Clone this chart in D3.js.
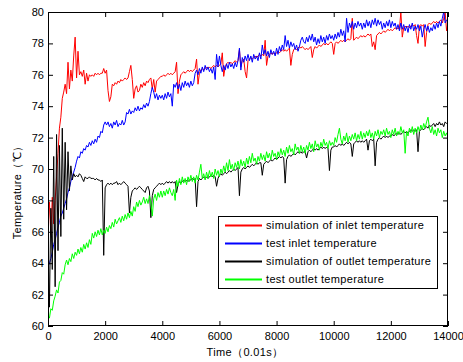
<!DOCTYPE html>
<html><head><meta charset="utf-8">
<script src="https://cdn.jsdelivr.net/npm/d3@7"></script>
<style>
body{margin:0;background:#fff}
text{font-family:"Liberation Sans",Arial,Helvetica,sans-serif;letter-spacing:0.35px}
.tick text{letter-spacing:0}
</style>
</head><body>
<svg id="c" width="463" height="362"></svg>
<script>
// sampling interval of the series, in units of 0.01 s
const sampleStep = 50;
const xTicks = [0,2000,4000,6000,8000,10000,12000,14000];
const yTicks = [60,62,64,66,68,70,72,74,76,78,80];
const seriesNames = ["simulation of inlet temperature","test inlet temperature","simulation of outlet temperature","test outlet temperature"];
const seriesColors = ["#ff0000","#0000ff","#000000","#00ff00"];

const simInlet = [
66.2,67.9,65.8,68.2,66.5,68.0,69.5,71.0,72.6,73.3,74.5,74.9,75.4,74.8,76.8,75.1,76.3,75.6,77.2,78.4,
75.8,77.5,76.0,76.2,75.9,76.3,75.4,76.1,75.6,76.0,75.9,76.0,75.9,76.1,76.0,76.1,76.0,76.1,76.1,76.4,
76.1,76.3,75.0,74.3,74.6,75.4,75.3,75.5,75.4,75.6,75.5,75.7,75.6,75.7,75.8,75.7,75.8,76.2,76.6,75.7,
74.5,75.1,75.3,74.9,75.0,75.4,75.2,75.5,75.3,75.6,75.5,75.7,75.8,75.1,75.7,74.9,75.6,75.7,75.8,75.9,
75.9,76.0,75.9,76.0,76.1,76.0,76.1,76.0,76.1,76.2,76.8,74.8,75.6,76.0,76.1,76.2,76.1,76.2,76.3,76.2,
76.3,76.2,76.3,76.4,77.0,75.4,76.1,76.3,76.4,76.3,76.4,76.5,76.4,76.5,76.4,76.5,76.6,76.5,76.6,76.5,
76.6,76.7,77.4,75.9,76.5,76.7,76.8,76.7,76.8,76.7,76.8,76.9,76.8,76.9,77.6,76.5,76.9,77.0,76.2,75.8,
76.9,77.0,77.1,77.0,77.1,77.2,77.1,77.2,77.3,77.2,77.3,77.2,78.2,76.6,77.2,77.3,77.4,77.3,77.4,77.3,
77.4,77.5,77.4,77.5,77.6,77.5,77.6,77.5,77.6,77.7,76.6,77.3,77.6,77.7,77.6,77.7,77.8,77.7,77.8,77.7,
77.6,77.7,77.6,77.7,77.8,77.1,77.6,77.8,77.7,77.8,77.9,77.8,77.9,78.0,77.9,78.0,77.9,78.0,78.1,78.0,
77.3,78.0,78.1,78.0,78.1,78.2,78.1,78.2,78.1,78.2,78.3,78.2,78.3,79.6,78.2,78.3,78.4,78.3,78.4,78.5,
78.4,78.5,78.4,78.5,78.6,78.5,78.6,77.8,78.1,77.6,78.5,78.6,78.7,78.6,78.7,78.8,78.7,78.8,78.9,78.8,
78.9,78.8,78.9,79.0,78.9,79.0,78.9,80.0,78.4,79.0,79.1,79.0,79.1,79.0,79.1,79.2,79.1,79.2,78.5,78.0,
79.1,79.2,79.1,79.2,77.8,78.7,79.2,79.3,79.2,79.3,79.4,79.3,79.4,79.3,79.4,79.5,79.3,79.6,80.0,78.8,
79.3];

const testInlet = [
63.8,64.0,64.3,64.7,65.2,65.5,65.9,66.3,66.6,67.0,67.2,67.5,67.8,68.1,68.5,68.8,69.2,69.5,69.8,70.1,
70.5,70.8,70.7,71.1,71.0,71.3,71.2,71.5,71.4,71.7,71.5,71.8,71.6,71.9,71.7,72.1,72.0,72.4,72.3,72.8,
73.0,72.8,73.0,72.7,72.9,72.6,73.0,72.8,73.1,72.7,72.9,72.8,73.1,72.8,73.0,73.6,73.5,73.8,73.5,73.7,
73.6,73.9,73.7,74.0,73.7,73.9,73.8,74.1,73.9,74.2,74.0,74.3,74.8,75.2,74.9,74.5,74.8,74.4,74.7,74.5,
74.7,74.4,74.8,74.5,74.9,74.6,74.8,74.0,75.4,75.2,75.5,75.1,75.4,75.0,75.5,75.2,75.6,75.3,75.5,75.2,
75.6,75.3,75.5,76.1,76.3,76.0,76.4,76.1,76.5,76.2,76.6,76.3,76.5,76.2,76.4,76.1,76.5,75.7,77.3,76.5,
77.2,76.6,76.2,76.6,76.3,76.7,76.4,76.8,76.5,76.7,76.4,76.8,76.5,76.9,77.7,76.3,77.1,76.8,77.2,76.9,
77.3,76.9,77.2,76.8,77.3,77.0,77.2,76.9,77.4,77.0,77.9,77.3,77.6,77.2,77.5,77.1,77.6,77.3,77.5,77.2,
77.7,77.3,77.8,77.5,77.9,77.6,78.5,77.8,78.2,77.7,78.1,77.8,78.0,77.6,77.9,77.5,77.8,78.2,78.4,78.1,
78.0,78.4,78.1,78.5,78.2,78.6,78.1,78.4,77.9,78.3,78.0,78.5,78.1,78.4,78.0,78.5,78.2,78.6,78.3,78.5,
78.2,78.6,78.3,78.7,78.4,78.9,78.5,78.8,78.1,79.6,78.7,79.3,79.0,79.4,78.9,79.3,79.0,79.4,79.1,79.3,
78.9,79.3,79.0,79.5,79.1,79.4,79.0,79.5,79.2,79.6,79.1,79.5,79.2,79.4,78.9,79.3,79.0,79.4,79.1,79.5,
79.0,79.4,79.1,79.3,78.9,79.2,78.8,79.3,78.9,79.2,78.8,79.1,78.7,79.2,78.9,79.3,78.8,79.1,78.9,79.2,
78.8,79.1,78.4,78.9,79.2,78.8,79.1,78.7,79.0,78.8,79.2,78.9,79.3,79.0,79.4,79.1,79.6,80.0,79.3,79.5,
79.4];

const simOutlet = [
66.0,61.2,67.5,63.6,70.8,62.5,72.2,64.8,71.5,65.7,72.6,66.8,71.7,67.4,71.1,68.6,70.2,69.3,69.7,69.5,
69.6,69.5,69.7,69.6,69.4,69.2,69.5,69.4,69.4,69.5,69.4,69.4,69.4,69.3,69.4,69.3,69.3,69.2,69.3,64.5,
68.8,69.0,69.1,69.0,69.1,69.0,69.1,69.1,69.2,69.0,69.1,69.0,69.1,69.2,69.1,69.0,68.9,67.2,68.2,68.6,
68.7,68.8,68.7,68.8,68.9,68.8,68.7,68.6,68.5,68.8,68.9,68.6,66.9,68.3,68.7,68.8,68.9,69.0,69.1,69.0,
69.1,69.0,69.1,69.2,69.1,69.2,69.1,69.2,69.1,69.2,68.5,69.0,69.2,69.1,69.2,69.3,69.2,69.3,69.2,69.3,
69.3,69.4,69.3,69.4,67.6,69.2,69.4,69.3,69.4,69.5,69.4,69.5,69.4,69.5,69.6,69.5,69.6,69.5,68.9,69.4,
69.6,69.7,69.6,69.7,69.8,69.7,69.8,69.9,69.8,69.9,70.0,69.9,70.0,70.1,68.3,69.8,70.0,70.1,70.0,70.1,
70.2,70.1,70.2,70.3,70.2,70.3,70.4,70.3,70.4,70.4,69.6,70.3,70.4,70.5,70.4,70.5,70.6,70.5,70.6,70.7,
70.6,70.7,70.8,70.7,70.8,70.7,69.1,70.6,70.8,70.9,70.8,70.9,71.0,70.9,71.0,71.1,71.0,71.1,71.0,71.1,
71.1,70.7,71.1,71.2,71.1,71.2,71.3,71.2,71.3,71.2,71.3,71.4,71.3,71.4,71.3,71.4,71.3,69.9,71.2,71.4,
71.4,71.5,71.4,71.5,71.6,71.5,71.6,71.5,71.6,71.7,71.6,71.7,71.6,70.8,71.6,71.7,71.8,71.7,71.8,71.7,
71.8,71.7,71.8,71.9,71.2,71.8,71.9,71.8,71.9,70.2,71.7,71.9,72.0,71.9,72.0,72.1,72.0,72.1,72.0,72.1,
72.1,72.2,72.1,72.2,72.3,72.2,72.3,72.2,72.3,72.4,72.3,72.4,72.3,72.4,72.5,72.4,72.5,72.4,72.5,71.1,
72.4,72.5,72.6,72.5,72.6,72.7,72.6,72.8,72.7,72.8,72.9,72.7,72.9,72.8,73.0,72.8,72.9,72.7,73.0,72.9,
72.9];

const testOutlet = [
60.7,60.5,61.1,61.0,61.6,61.9,62.3,62.1,62.8,62.9,63.4,63.3,63.9,64.2,63.9,64.3,64.1,64.6,64.3,64.7,
64.5,64.9,64.6,65.0,64.7,65.2,64.9,65.3,65.0,65.5,65.2,65.9,65.6,66.0,65.7,66.1,65.8,66.2,65.8,66.1,
65.9,66.3,66.0,66.4,66.2,66.6,66.3,66.8,66.5,66.7,66.9,66.6,67.0,66.7,67.1,66.8,67.2,66.9,67.3,67.0,
67.6,67.3,67.9,67.6,68.0,67.7,67.9,68.2,67.8,68.1,67.8,68.3,67.9,67.0,68.1,68.4,68.0,68.5,68.2,68.6,
68.2,68.6,68.3,68.7,68.4,68.8,68.5,68.3,68.7,68.0,69.3,68.9,69.4,69.0,69.5,69.1,69.4,69.0,69.5,69.2,
69.6,69.2,69.5,69.1,69.6,69.3,69.8,70.3,69.4,69.7,69.3,69.8,69.4,69.9,69.5,69.8,69.4,70.0,69.6,69.9,
69.5,70.0,69.7,70.2,69.8,70.4,69.9,70.6,70.0,70.3,69.9,70.4,70.1,70.5,70.0,70.6,70.2,70.5,70.1,70.7,
70.3,70.8,70.4,71.0,70.5,70.7,70.3,70.8,70.5,71.0,70.6,70.9,70.5,71.1,70.7,71.0,70.6,71.2,70.8,71.0,
70.6,71.1,70.8,71.3,70.9,71.2,70.8,71.4,71.0,71.5,71.1,71.3,70.9,71.6,71.2,71.4,71.0,71.5,71.1,71.4,
71.0,71.5,71.2,71.7,71.3,71.6,71.1,71.8,71.4,71.6,71.2,71.7,71.4,71.9,71.5,71.7,71.3,71.8,71.5,71.7,
71.5,72.0,71.7,72.2,72.6,71.9,71.6,72.1,71.8,72.3,71.7,72.1,71.8,72.2,71.9,72.3,71.8,72.2,71.9,72.4,
71.9,72.3,72.0,72.4,72.1,72.5,72.0,72.3,71.9,72.4,72.1,72.5,72.0,72.4,72.2,72.5,72.1,72.6,72.2,72.4,
72.0,72.5,72.2,72.6,72.1,72.4,72.2,72.7,72.3,72.5,71.0,72.4,72.1,72.6,72.3,72.7,72.2,72.6,72.3,72.7,
72.4,72.8,72.5,72.9,72.6,73.0,73.3,72.6,72.3,72.7,72.2,72.5,72.1,72.6,72.3,72.5,72.0,72.4,72.1,72.3,
72.0];

const allSeries = [simInlet, testInlet, simOutlet, testOutlet];

const svg = d3.select("#c");
const L = 48, R = 448, T = 12, B = 326;
const x = d3.scaleLinear().domain([0, 14000]).range([L, R]);
const y = d3.scaleLinear().domain([60, 80]).range([B, T]);

svg.append("defs").append("clipPath").attr("id","clip")
  .append("rect").attr("x",L).attr("y",T).attr("width",R-L).attr("height",B-T);

const line = d3.line().x((d,i)=>x(i*sampleStep)).y(d=>y(d));
const g = svg.append("g").attr("clip-path","url(#clip)");
allSeries.forEach((s,k)=>{
  g.append("path").datum(s).attr("d",line)
    .attr("fill","none").attr("stroke",seriesColors[k]).attr("stroke-width",1)
    .attr("stroke-linejoin","miter");
});

function styleAxis(sel){
  sel.select(".domain").remove();
  sel.selectAll(".tick line").attr("stroke","#000");
  sel.selectAll("text").attr("font-size",11).attr("fill","#000")
     .attr("font-family","'Liberation Sans',Arial,sans-serif");
}
svg.append("g").attr("transform",`translate(0,${B})`)
  .call(d3.axisBottom(x).tickValues(xTicks).tickSize(-5).tickPadding(6).tickFormat(d3.format("d")))
  .call(styleAxis);
svg.append("g").attr("transform",`translate(0,${T})`)
  .call(d3.axisTop(x).tickValues(xTicks).tickSize(-5).tickFormat(""))
  .call(styleAxis);
svg.append("g").attr("transform",`translate(${L},0)`)
  .call(d3.axisLeft(y).tickValues(yTicks).tickSize(-5).tickPadding(4).tickFormat(d3.format("d")))
  .call(styleAxis);
svg.append("g").attr("transform",`translate(${R},0)`)
  .call(d3.axisRight(y).tickValues(yTicks).tickSize(-5).tickFormat(""))
  .call(styleAxis);

svg.append("rect").attr("x",L+0.5).attr("y",T+0.5).attr("width",R-L-1).attr("height",B-T-1)
  .attr("fill","none").attr("stroke","#000").attr("stroke-width",1);

// axis labels
svg.append("text").attr("x",245).attr("y",356).attr("text-anchor","middle")
  .attr("font-size",11).text("Time（0.01s）");
svg.append("text").attr("transform","translate(21,190) rotate(-90)").attr("text-anchor","middle")
  .attr("font-size",11).text("Temperature（℃）");

// legend
const lg = svg.append("g");
lg.append("rect").attr("x",218.5).attr("y",216.5).attr("width",219).attr("height",72)
  .attr("fill","#fff").attr("stroke","#000").attr("stroke-width",1);
seriesNames.forEach((n,k)=>{
  const yy = 225 + k*18;
  lg.append("line").attr("x1",225).attr("x2",262).attr("y1",yy+0.5).attr("y2",yy+0.5)
    .attr("stroke",seriesColors[k]).attr("stroke-width",2);
  lg.append("text").attr("x",266).attr("y",yy+4).attr("font-size",11).text(n);
});
</script>
</body></html>
